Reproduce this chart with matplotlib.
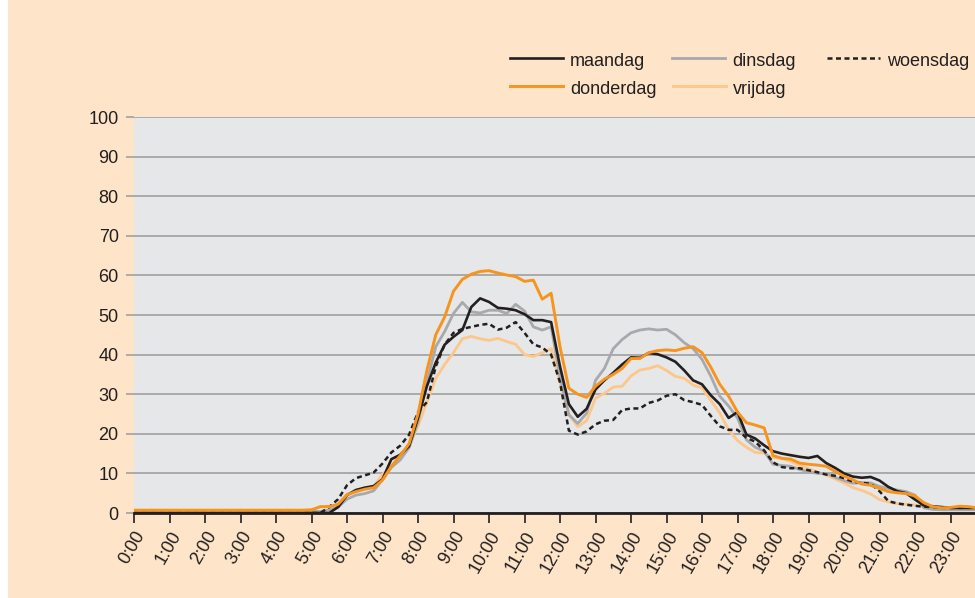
import matplotlib
matplotlib.use("Agg")
import matplotlib.pyplot as plt
import numpy as np
from matplotlib.lines import Line2D

# values per quarter hour, 0:00 .. 23:45
maandag = [0, 0, 0, 0, 0, 0, 0, 0,
           0, 0, 0, 0, 0, 0, 0, 0,
           0, 0, 0, 0, 0, 0, 0, 1.5,
           4.5, 5.8, 6.4, 6.8, 8.5, 13.6, 14.7, 16.9,
           24, 32, 38, 42.5, 44.5, 46.2, 52, 54.2,
           53.3, 51.8, 51.6, 51.2, 50.2, 48.7, 48.7, 48.2,
           37, 27.5, 24.3, 26.3, 31.2, 33.5, 35.4, 37.5,
           39.3, 39.2, 40.4, 40.1, 39.3, 38.2, 36, 33.5,
           32.5, 29.7, 27.5, 24, 25.5, 19.8, 18.8, 17.1,
           15.6, 15, 14.6, 14.2, 13.9, 14.4, 12.6, 11.4,
           10, 9.2, 8.9, 9.1, 8.2, 6.6, 5.5, 5.0,
           3.4, 1.9, 1.7, 1.5, 1.3, 1.3, 1.3, 1.3]
dinsdag = [0.4, 0.4, 0.4, 0.4, 0.4, 0.4, 0.4, 0.4,
           0.4, 0.4, 0.4, 0.4, 0.4, 0.4, 0.4, 0.4,
           0.4, 0.4, 0.4, 0.4, 0.4, 0.4, 0.8, 1.5,
           3.5, 4.5, 4.9, 5.6, 8.4, 11.5, 13.4, 16.5,
           23, 33, 42, 45.8, 50.4, 53.2, 50.8, 50.5,
           51.2, 51.2, 50.4, 52.7, 51, 47, 46.2, 47,
           34.4, 24.8, 22.6, 25.2, 33.5, 36.5, 41.5, 43.8,
           45.5, 46.2, 46.5, 46.2, 46.4, 45, 43, 41.5,
           38.8, 34.5, 29.5, 27, 24, 18.5, 16.6, 15.6,
           12.3, 12, 11.8, 11, 10.4, 10, 10, 9,
           8.2, 7.5, 7.7, 7.6, 6.7, 6.2, 5.8, 5.4,
           4.5, 1.3, 0.9, 0.8, 0.8, 0.8, 0.8, 0.8]
woensdag = [0, 0, 0, 0, 0, 0, 0, 0,
            0, 0, 0, 0, 0, 0, 0, 0,
            0, 0, 0, 0, 0, 0, 1.5, 3.5,
            7, 8.8, 9.5, 10.2, 12.5, 15.3, 17, 19.8,
            25.5, 28, 37, 42.5, 45.5, 46.5, 47, 47.5,
            47.8, 46.3, 46.8, 48.2, 45.5, 42.6, 41.8, 40,
            33, 20.8, 19.8, 20.6, 22.4, 23.3, 23.5, 26,
            26.4, 26.4, 27.8, 28.4, 29.6, 30, 28.5, 28,
            27.3, 24.5, 21.9, 21, 21, 19, 18, 15.8,
            12.8, 11.6, 11.3, 11.3, 10.8, 10.3, 9.7, 9.4,
            8.8, 7.9, 7.6, 7.4, 5.5, 3, 2.4, 2.1,
            1.8, 1.6, 1.5, 1.3, 1.3, 1.3, 1.3, 1.3]
donderdag = [0.7, 0.7, 0.7, 0.7, 0.7, 0.7, 0.7, 0.7,
             0.7, 0.7, 0.7, 0.7, 0.7, 0.7, 0.7, 0.7,
             0.7, 0.7, 0.7, 0.7, 0.8, 1.6, 1.6, 2.2,
             4.6, 5.4, 6.0, 6.4, 8.3, 11.8, 14.5, 17.5,
             25, 36, 45, 49.5, 56, 59, 60.3, 61,
             61.2, 60.6, 60.1, 59.7, 58.5, 58.8, 54, 55.5,
             42, 31.5, 30, 29.2, 32, 33.8, 35, 36.5,
             39, 39, 40.5, 41, 41.2, 41, 41.6, 42,
             40.5, 36.8, 32.5, 29.5, 25.5, 22.8, 22.2, 21.5,
             14.5, 13.8, 13.6, 12.6, 12.3, 12.1, 11.8, 10.5,
             9.3, 8.4, 7.3, 7.0, 6.2, 5.4, 5.1, 4.9,
             4.3, 2.6, 1.6, 1.3, 1.4, 1.7, 1.6, 1.3]
vrijdag = [0.7, 0.7, 0.7, 0.7, 0.7, 0.7, 0.7, 0.7,
           0.7, 0.7, 0.7, 0.7, 0.7, 0.7, 0.7, 0.7,
           0.7, 0.7, 0.7, 0.7, 0.8, 1.6, 1.7, 2.2,
           4.8, 5.4, 6.2, 6.6, 9.8, 11.5, 14.8, 17,
           22, 28, 34, 37.5, 40.5, 44, 44.6, 44,
           43.6, 44.1, 43.3, 42.6, 40, 39.5, 40.5, 41.5,
           33, 25, 21.8, 23.3, 29, 30.2, 31.8, 32,
           34.6, 36.1, 36.5, 37.2, 36, 34.5, 34, 32.3,
           31.6, 28.4, 25.3, 21, 18.3, 16.6, 15.3, 15.1,
           14, 13.8, 13, 12, 11.2, 10.3, 9.6, 8.6,
           7.6, 6.4, 5.7, 4.8, 3.4, 2.8, 2.4, 2.2,
           2, 1.6, 1.3, 1.3, 1.2, 1.2, 1.1, 0.8]

uren = [str(h) + ":00" for h in range(24)]
y_ticks = list(range(0, 101, 10))

plt.rcParams['font.family'] = ["Liberation Sans", "DejaVu Sans"]
fs = 13
txt = "#231f20"
W, H = 975.0, 598.0

fig = plt.figure(figsize=(9.75, 5.98), dpi=100)
fig.patch.set_facecolor("white")
bg = plt.Rectangle((8 / W, 0), 1, 1, transform=fig.transFigure,
                   facecolor="#fee4c8", edgecolor="none", zorder=-10)
fig.patches.append(bg)

ax = fig.add_axes([134 / W, 1 - 513 / H, 1 - 134 / W, (513 - 117) / H])
ax.set_facecolor("#e6e7e8")

dash = (0, (2.0, 1.4))
x = np.arange(len(maandag)) * 0.25
ax.plot(x, vrijdag, color="#fdc68a", lw=2.0)
ax.plot(x, dinsdag, color="#a7a9ac", lw=2.0)
ax.plot(x, woensdag, color=txt, lw=1.8, ls=dash)
ax.plot(x, maandag, color=txt, lw=1.9)
ax.plot(x, donderdag, color="#f7941d", lw=2.1)

ax.set_xlim(0, (975 - 134) / 35.5)
ax.set_ylim(0, 100)
ax.set_yticks(y_ticks)
ax.set_yticklabels([str(v) for v in y_ticks], fontsize=fs, color=txt)
ax.yaxis.grid(True, color="#a0a0a0", lw=1.2)
ax.set_axisbelow(True)
ax.tick_params(axis="y", length=6, width=1.2, color="#a0a0a0", pad=5)

ax.set_xticks(range(24))
ax.set_xticklabels(uren, fontsize=fs, color=txt, rotation=60,
                   ha="right", va="top", rotation_mode="anchor")
ax.tick_params(axis="x", length=7, width=1.2, color=txt, pad=4)

for s in ["top", "right", "left"]:
    ax.spines[s].set_visible(False)
ax.spines["bottom"].set_color(txt)
ax.spines["bottom"].set_linewidth(2)

# legend, placed by hand like the original
legend_items = [
    ("maandag", txt, "-", 1.9, 510, 58),
    ("dinsdag", "#a7a9ac", "-", 2.0, 672, 58),
    ("woensdag", txt, dash, 1.8, 827, 58),
    ("donderdag", "#f7941d", "-", 2.1, 510, 86),
    ("vrijdag", "#fdc68a", "-", 2.0, 673, 86),
]
for name, col, ls, lw, x0, y0 in legend_items:
    fig.add_artist(Line2D([x0 / W, (x0 + 53) / W], [1 - y0 / H, 1 - y0 / H],
                          color=col, ls=ls, lw=lw, transform=fig.transFigure))
    fig.text((x0 + 60) / W, 1 - (y0 + 4) / H, name, fontsize=fs, color=txt,
             ha="left", va="center")

fig.savefig("out.png", dpi=100, facecolor=fig.get_facecolor())
